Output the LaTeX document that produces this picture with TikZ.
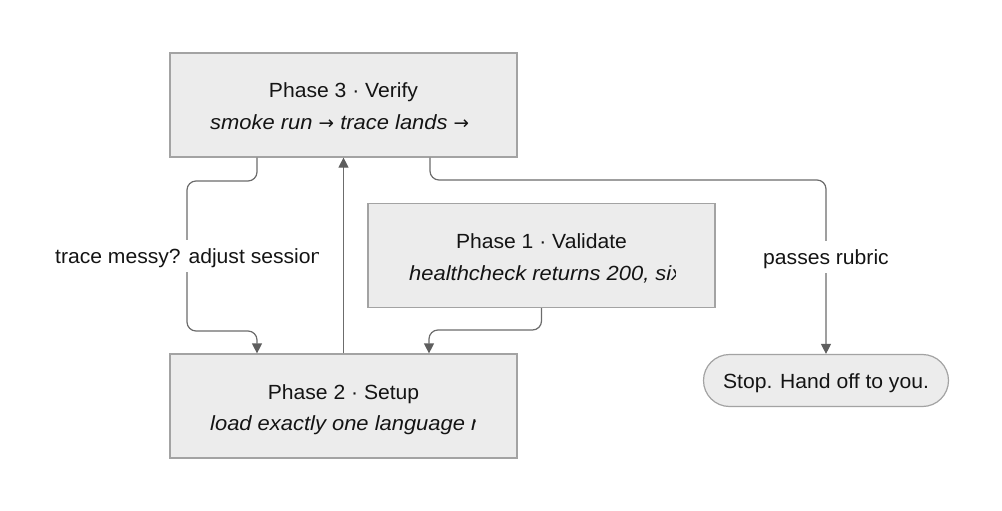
\documentclass[tikz,border=0pt]{standalone}
\usepackage{fontspec}
\setmainfont{Liberation Sans}[FakeStretch=1.03, ItalicFeatures={FakeStretch=1.07}]
\newfontfamily\arrfont{DejaVu Sans}
\newcommand{\rarr}{{\arrfont\upshape\fontsize{18.5}{20}\selectfont →}}
\usetikzlibrary{arrows.meta}
\definecolor{boxfill}{HTML}{ECECEC}
\definecolor{boxline}{HTML}{A3A3A3}
\definecolor{edgeline}{HTML}{6C6C6C}
\definecolor{tipcol}{HTML}{5E5E5E}
\definecolor{ink}{HTML}{141414}
\begin{document}
\begin{tikzpicture}[x=1pt,y=-1pt, font=\fontsize{20.5}{24}\selectfont,
  box/.style={draw=boxline, fill=boxfill, line width=1.2pt, minimum width=347pt, minimum height=104pt, inner sep=0pt},
  txt/.style={anchor=base, inner sep=0pt, text=ink},
  sub/.style={anchor=base west, inner sep=0pt, text=ink, font=\fontsize{20.5}{24}\selectfont\itshape},
  edge/.style={draw=edgeline, line width=1.2pt, rounded corners=9pt, -{Triangle[length=10pt,width=10pt,color=tipcol,fill=tipcol]}},
  lblbg/.style={fill=white, inner sep=0pt, minimum height=32pt}]
\useasboundingbox (0,0) rectangle (1002,511);

% boxes
\node[box] (p3) at (343.5,105) {};
\node[box] (p1) at (541.5,255.5) {};
\node[box] (p2) at (343.5,406) {};
\node[draw=boxline, fill=boxfill, line width=1.2pt, rounded corners=26pt, minimum width=245pt, minimum height=52pt, inner sep=0pt] (stop) at (826,380.5) {};

% titles
\node[txt] (p3t) at (343.5,97.5) {Phase 3 · Verify};
\node[txt] (p1t) at (541.5,248) {Phase 1 · Validate};
\node[txt] (p2t) at (343.5,399) {Phase 2 · Setup};
\node[txt] (stopt) at (826,388.5) {Stop. Hand off to you.};

% clipped subtitles
\begin{scope}
  \clip (210,100) rectangle (477,145);
  \node[sub] (p3s) at (210,129.5) {smoke run \rarr{} trace lands \rarr};
\end{scope}
\begin{scope}
  \clip (409,250) rectangle (675,295);
  \node[sub] (p1s) at (409,280) {healthcheck returns 200, six};
\end{scope}
\begin{scope}
  \clip (210,400) rectangle (475,445);
  \node[sub] (p2s) at (210,430.5) {load exactly one language ru};
\end{scope}

% connectors
\coordinate (c1) at (257,181);
\coordinate (c2) at (187,181);
\coordinate (c3) at (187,331);
\coordinate (c4) at (257,331);
\draw[edge] (p3.south -| c1) -- (c1) -- (c2) -- (c3) -- (c4) -- (p2.north -| c4);

\draw[edge] (p2.north) -- (p3.south);

\coordinate (d1) at (541.5,330);
\coordinate (d2) at (429,330);
\draw[edge] (p1.south) -- (d1) -- (d2) -- (p2.north -| d2);

\coordinate (e1) at (430,180);
\coordinate (e2) at (826,180);
\draw[edge] (p3.south -| e1) -- (e1) -- (e2) -- (stop.north);

% edge labels
\node[lblbg, minimum width=264pt] (l1bg) at (186,256) {};
\begin{scope}
  \clip (l1bg.south west) rectangle (l1bg.north east);
  \node[anchor=base west, inner sep=0pt, text=ink] (l1) at (55,263.5) {trace messy? adjust session};
\end{scope}
\node[lblbg, minimum width=132pt] (l2bg) at (826,256.5) {};
\node[txt] (l2) at (826,264) {passes rubric};
\end{tikzpicture}
\end{document}
